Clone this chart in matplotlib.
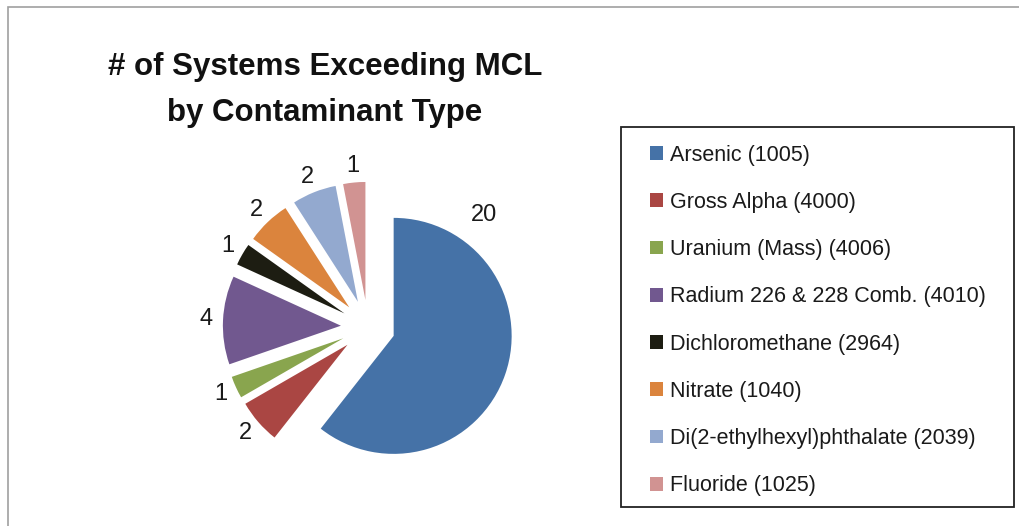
import numpy as np
import matplotlib.pyplot as plt
from matplotlib.patches import Rectangle

# systems exceeding MCL, one entry per contaminant (code in brackets)
contaminants = ['Arsenic (1005)', 'Gross Alpha (4000)', 'Uranium (Mass) (4006)',
                'Radium 226 & 228 Comb. (4010)', 'Dichloromethane (2964)',
                'Nitrate (1040)', 'Di(2-ethylhexyl)phthalate (2039)', 'Fluoride (1025)']
systems = [20, 2, 1, 4, 1, 2, 2, 1]
colors = ['#4572A7', '#AA4643', '#89A54E', '#71588F', '#1D1D12',
          '#DB843D', '#93A9CF', '#D19392']

plt.rcParams['font.family'] = ['Liberation Sans', 'DejaVu Sans']

W, H = 1020, 526
fig = plt.figure(figsize=(W / 100, H / 100), dpi=100)

# grey page frame (only top and left edges show)
fig.patches.append(Rectangle((8 / W, -0.1), 1.2, 1 - 7 / H + 0.1, transform=fig.transFigure,
                             fill=False, edgecolor='#a0a0a0', linewidth=1.2))

# pie axes, centre at (368, 327) px, radius 118 px
cx, cy, r, half = 368, 327, 118, 190
ax = fig.add_axes([(cx - half) / W, (H - cy - half) / H, 2 * half / W, 2 * half / H])
wedges, _ = ax.pie(systems, colors=colors, startangle=90, counterclock=False,
                   explode=[0.23] * len(systems), radius=1.0,
                   wedgeprops=dict(linewidth=0))
lim = half / r
ax.set_xlim(-lim, lim)
ax.set_ylim(-lim, lim)
ax.axis('off')

# value labels; Excel's best-fit moved a couple of them off the mid angle
label_angle = {0: 44.0, 2: 204.4}
for i, (w, v) in enumerate(zip(wedges, systems)):
    ang = label_angle.get(i, (w.theta1 + w.theta2) / 2)
    a = np.deg2rad(ang)
    ax.text(1.37 * np.cos(a), 1.37 * np.sin(a), str(v), ha='center', va='center',
            fontsize=17, color='#1a1a1a')

fig.text(325 / W, 1 - 67 / H, '# of Systems Exceeding MCL', ha='center', va='center',
         fontsize=22.5, fontweight='bold', color='#111111')
fig.text(325 / W, 1 - 113 / H, 'by Contaminant Type', ha='center', va='center',
         fontsize=22.5, fontweight='bold', color='#111111')

# legend box drawn separately so its padding can be set exactly
fig.patches.append(Rectangle((621 / W, 1 - 507 / H), (1014 - 621) / W, (507 - 127) / H,
                             transform=fig.transFigure, fill=False,
                             edgecolor='#222222', linewidth=1.3))
leg = fig.legend(wedges, contaminants, loc='upper left',
                 bbox_to_anchor=(650 / W, 1 - 144.5 / H), frameon=False,
                 fontsize=15.5, labelspacing=1.22, handlelength=0.6, handleheight=0.6,
                 handletextpad=0.33, borderpad=0, borderaxespad=0)
for t in leg.get_texts():
    t.set_color('#1a1a1a')

fig.savefig('out.png', dpi=100)
